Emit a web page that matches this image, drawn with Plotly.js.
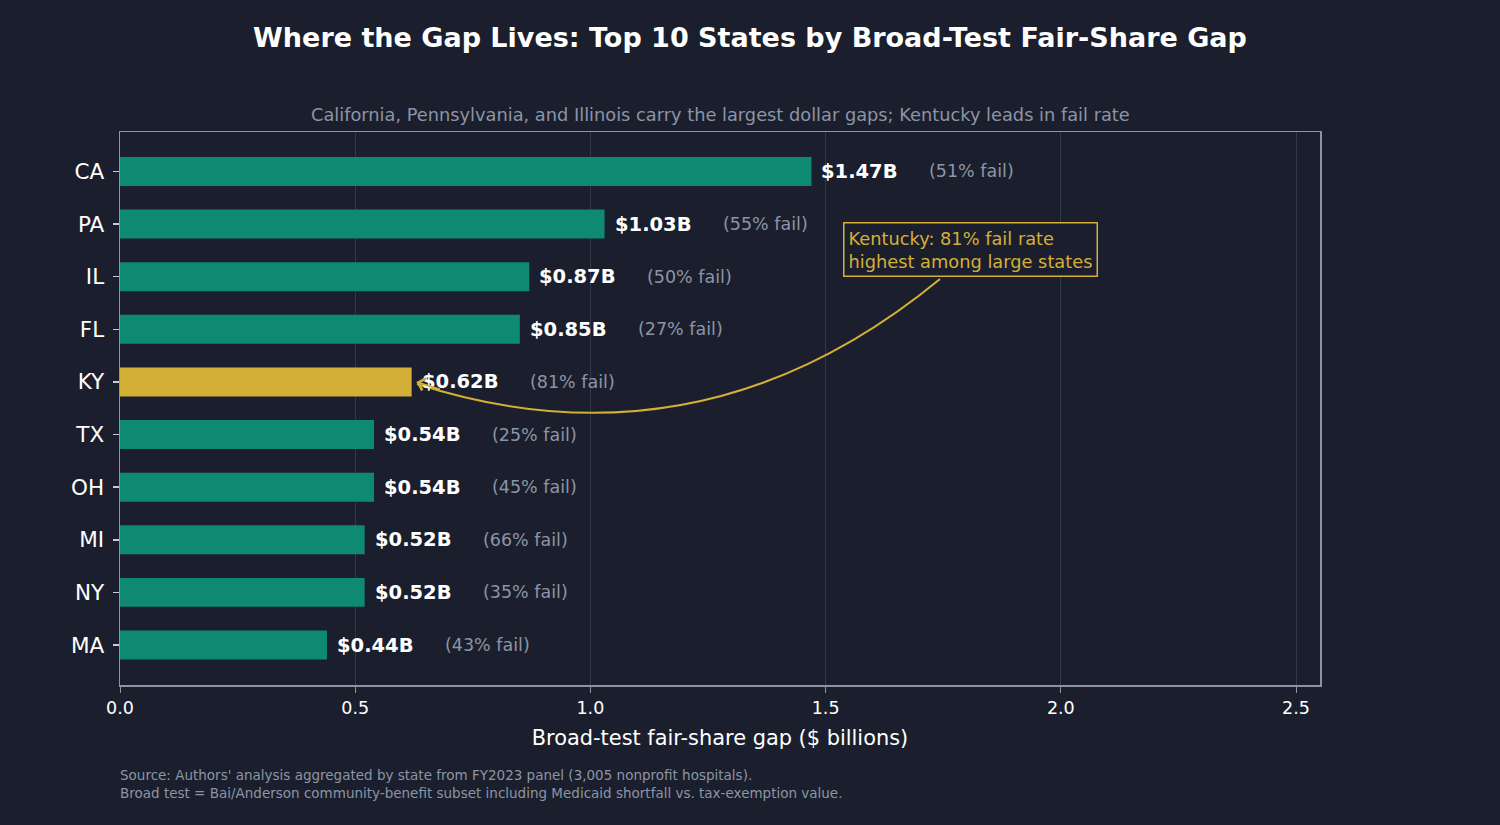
<!DOCTYPE html>
<html>
<head>
<meta charset="utf-8">
<script src="https://cdn.plot.ly/plotly-3.0.1.min.js"></script>
<style>
html,body{margin:0;padding:0;background:#1b1f2d;}
#chart{width:1500px;height:825px;}
</style>
</head>
<body>
<div id="chart"></div>
<script>
const states = ['CA','PA','IL','FL','KY','TX','OH','MI','NY','MA'];
const gapBillions = [1.47, 1.03, 0.87, 0.85, 0.62, 0.54, 0.54, 0.52, 0.52, 0.44];
const failRatePct = [51, 55, 50, 27, 81, 25, 45, 66, 35, 43];
const highlightState = 'KY';
const xTickVals = [0, 0.5, 1.0, 1.5, 2.0, 2.5];
const xTickText = ['0.0', '0.5', '1.0', '1.5', '2.0', '2.5'];

const BG = '#1b1f2d';
const TEAL = '#0f8a72';
const GOLD = '#d4af37';
const GREY = '#8b95a5';
const FONT = 'DejaVu Sans, sans-serif';

const barColors = states.map(s => s === highlightState ? GOLD : TEAL);

const trace = {
  type: 'bar',
  orientation: 'h',
  x: gapBillions,
  y: states,
  width: 0.55,
  marker: {color: barColors, line: {width: 0}},
  hoverinfo: 'skip'
};

const annotations = [];
states.forEach((s, i) => {
  annotations.push({
    x: gapBillions[i], y: s, xref: 'x', yref: 'y',
    xanchor: 'left', yanchor: 'middle', xshift: 8, showarrow: false,
    text: '<b>$' + gapBillions[i].toFixed(2) + 'B</b>',
    font: {family: FONT, size: 19.5, color: '#ffffff'}
  });
  annotations.push({
    x: gapBillions[i], y: s, xref: 'x', yref: 'y',
    xanchor: 'left', yanchor: 'middle', xshift: 116, showarrow: false,
    text: '(' + failRatePct[i] + '% fail)',
    font: {family: FONT, size: 17.5, color: GREY}
  });
});

const kyIdx = states.indexOf(highlightState);
// callout box
annotations.push({
  x: 1.537, y: 0.787, xref: 'x', yref: 'paper',
  xanchor: 'left', yanchor: 'middle', showarrow: false, align: 'left',
  text: 'Kentucky: ' + failRatePct[kyIdx] + '% fail rate<br>highest among large states',
  font: {family: FONT, size: 17.8, color: GOLD},
  bordercolor: GOLD, borderwidth: 1.5, borderpad: 4, bgcolor: BG
});
// arrow head at KY bar
annotations.push({
  x: gapBillions[kyIdx] + 0.01, y: highlightState, xref: 'x', yref: 'y',
  showarrow: true, text: '', arrowhead: 4, arrowsize: 1.2, arrowwidth: 2,
  arrowcolor: GOLD, ax: 25, ay: 8, standoff: 0
});
// subtitle
annotations.push({
  x: 0.5, y: 1.0, xref: 'paper', yref: 'paper', xanchor: 'center', yanchor: 'bottom',
  yshift: 5, showarrow: false,
  text: 'California, Pennsylvania, and Illinois carry the largest dollar gaps; Kentucky leads in fail rate',
  font: {family: FONT, size: 17.8, color: GREY}
});
// footer
annotations.push({
  x: 0, y: 0, xref: 'paper', yref: 'paper', xanchor: 'left', yanchor: 'top',
  yshift: -80, xshift: -2, showarrow: false, align: 'left',
  text: "Source: Authors' analysis aggregated by state from FY2023 panel (3,005 nonprofit hospitals).<br>Broad test = Bai/Anderson community-benefit subset including Medicaid shortfall vs. tax-exemption value.",
  font: {family: FONT, size: 13.5, color: GREY}
});

const layout = {
  width: 1500, height: 825,
  paper_bgcolor: BG, plot_bgcolor: BG,
  margin: {l: 120, r: 180, t: 132, b: 140},
  showlegend: false,
  title: {
    text: '<b>Where the Gap Lives: Top 10 States by Broad-Test Fair-Share Gap</b>',
    x: 0.5, xref: 'container', xanchor: 'center', y: 0.955, yref: 'container', yanchor: 'middle',
    font: {family: FONT, size: 27, color: '#ffffff'}
  },
  xaxis: {
    range: [0, 2.551],
    tickvals: xTickVals, ticktext: xTickText,
    ticks: 'outside', ticklen: 6, tickcolor: '#8a94a3', tickwidth: 1,
    tickfont: {family: FONT, size: 17.5, color: '#ffffff'},
    showgrid: true, gridcolor: '#323849', gridwidth: 1,
    zeroline: false,
    showline: true, linecolor: '#8a94a3', linewidth: 1.5, mirror: true,
    title: {text: 'Broad-test fair-share gap ($ billions)', standoff: 14,
            font: {family: FONT, size: 20.9, color: '#ffffff'}}
  },
  yaxis: {
    type: 'category',
    categoryorder: 'array', categoryarray: states,
    range: [9.76, -0.75],
    ticks: 'outside', ticklen: 6, tickcolor: '#c8cdd6', tickwidth: 1.5,
    ticklabelstandoff: 4,
    tickfont: {family: FONT, size: 21.5, color: '#ffffff'},
    showgrid: false, zeroline: false,
    showline: true, linecolor: '#8a94a3', linewidth: 1.5, mirror: true
  },
  bargap: 0.45,
  shapes: [{
    type: 'path', xref: 'x', yref: 'paper',
    path: 'M 1.7432,0.7342 Q 1.2372,0.3797 0.6314,0.5443',
    line: {color: GOLD, width: 2}
  }],
  annotations: annotations
};

Plotly.newPlot('chart', [trace], layout, {displayModeBar: false, staticPlot: true});
</script>
</body>
</html>
